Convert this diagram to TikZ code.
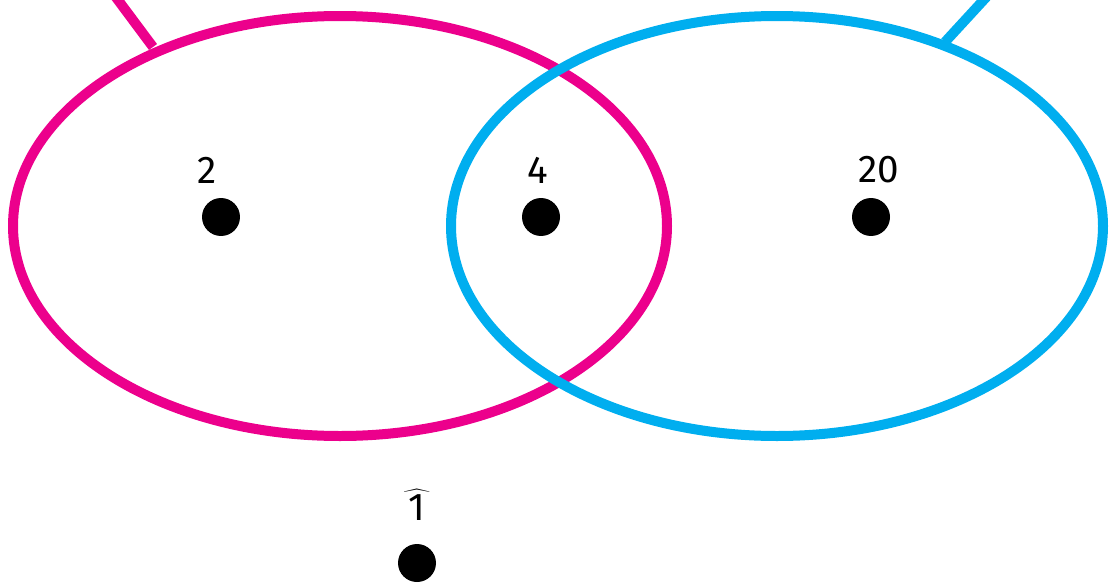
\documentclass[tikz,border=0pt]{standalone}
\usepackage{fontspec}
\setsansfont{Fira Sans}
\usetikzlibrary{positioning}
\definecolor{setpink}{RGB}{236,0,140}
\definecolor{setcyan}{RGB}{0,174,239}
\tikzstyle{dot}=[circle, fill=black, inner sep=0pt, minimum size=0.76cm]
\tikzstyle{num}=[font=\sffamily\fontsize{22}{22}\selectfont, inner sep=1pt]
\tikzstyle{ring}=[line width=0.2cm]

\begin{document}
\begin{tikzpicture}[x=0.02cm,y=0.02cm]
    \useasboundingbox (0,0) rectangle (1109,583);
    % the two sets
    \draw[ring, setpink] (340,357) ellipse (327 and 210);
    \draw[ring, setcyan] (777,357) ellipse (326 and 210);
    \coordinate (pa) at (153,536);
    \coordinate (pb) at (112,591);
    \coordinate (ca) at (945,541);
    \coordinate (cb) at (991,591);
    \draw[ring, setpink] (pa) -- (pb);
    \draw[ring, setcyan] (ca) -- (cb);
    % elements
    \node [dot] (d2) at (221,366) {};
    \node [dot] (d4) at (541,366) {};
    \node [dot] (d20) at (871,366) {};
    \node [dot] (d1) at (417,20) {};
    \node [num] (l2) at (207,413) {2};
    \node [num] (l4) at (538,413) {4};
    \node [num] (l20) at (879,413) {20};
    \node [num] (l1) at (417,78) {$\widehat{\textsf{\,1\,}}$};
\end{tikzpicture}
\end{document}
